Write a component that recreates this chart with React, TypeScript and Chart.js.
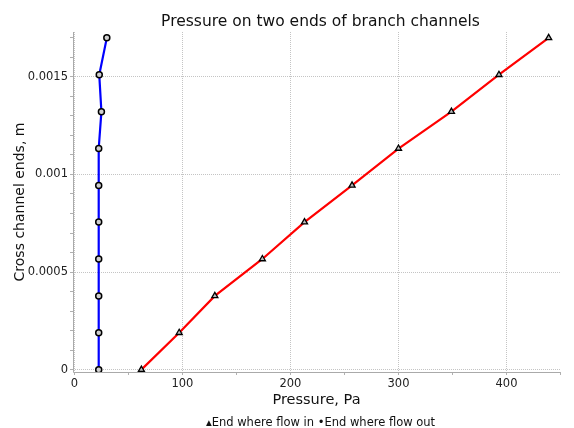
import React, { useEffect, useRef } from "react";
import { Chart, registerables } from "chart.js";

Chart.register(...registerables);

const crossEnds = [0, 0.000189, 0.000378, 0.000567, 0.000756, 0.000944, 0.001133, 0.001322, 0.001511, 0.0017];
const pressureFlowIn = [62, 97, 130, 174, 213, 257, 300, 349, 393, 439];
const pressureFlowOut = [22.5, 22.5, 22.5, 22.5, 22.5, 22.5, 22.5, 25, 23, 30];
const xTickValues = [0, 50, 100, 150, 200, 250, 300, 350, 400, 450];
const xLabelValues = [0, 100, 200, 300, 400];
const yTickValues = [0, 0.0001, 0.0002, 0.0003, 0.0004, 0.0005, 0.0006, 0.0007, 0.0008, 0.0009, 0.001, 0.0011, 0.0012, 0.0013, 0.0014, 0.0015, 0.0016, 0.0017];
const yLabelValues = [0, 0.0005, 0.001, 0.0015];
const titleText = "Pressure on two ends of branch channels";
const xTitle = "Pressure, Pa";
const yTitle = "Cross channel ends, m";
const seriesLabels = ["End where flow in", "End where flow out"];

const FONT = "'DejaVu Sans', Verdana, sans-serif";

const isLabelled = (v: number, list: number[]) => list.some((l) => Math.abs(l - v) < 1e-9);

export default function App() {
  const ref = useRef<HTMLCanvasElement | null>(null);

  useEffect(() => {
    document.body.style.margin = "0";
    const canvas = ref.current;
    if (!canvas) return;

    const overlay = {
      id: "overlayText",
      beforeDatasetsDraw(chart: any) {
        const { ctx, chartArea } = chart;
        ctx.save();
        ctx.strokeStyle = "#aaaaaa";
        ctx.lineWidth = 1;
        ctx.setLineDash([]);
        ctx.beginPath();
        ctx.moveTo(chartArea.left + 0.5, chartArea.top);
        ctx.lineTo(chartArea.left + 0.5, chartArea.bottom + 0.5);
        ctx.lineTo(chartArea.right, chartArea.bottom + 0.5);
        ctx.stroke();
        ctx.restore();
      },
      afterDraw(chart: any) {
        const { ctx, chartArea } = chart;
        const cx = (chartArea.left + chartArea.right) / 2 + 4;
        ctx.save();
        ctx.fillStyle = "#111";
        ctx.textAlign = "center";
        ctx.textBaseline = "alphabetic";
        ctx.font = `15.5px ${FONT}`;
        ctx.fillText(titleText, cx, 26);
        ctx.font = `11.5px ${FONT}`;
        ctx.fillText(`\u25B4${seriesLabels[0]} \u2022${seriesLabels[1]}`, cx, 426);
        ctx.restore();
      },
    };

    const chart = new Chart(canvas, {
      type: "line",
      data: {
        datasets: [
          {
            label: seriesLabels[0],
            data: crossEnds.map((y, i) => ({ x: pressureFlowIn[i], y })),
            borderColor: "#ff0000",
            borderWidth: 2.2,
            pointStyle: "triangle",
            pointRadius: 3.5,
            pointBackgroundColor: "#bcbcbc",
            pointBorderColor: "#000",
            pointBorderWidth: 1.3,
            tension: 0,
          },
          {
            label: seriesLabels[1],
            data: crossEnds.map((y, i) => ({ x: pressureFlowOut[i], y })),
            borderColor: "#0000ff",
            borderWidth: 2.2,
            pointStyle: "circle",
            pointRadius: 3,
            pointBackgroundColor: "#d0d0d0",
            pointBorderColor: "#000",
            pointBorderWidth: 1.5,
            tension: 0,
          },
        ],
      },
      options: {
        animation: false,
        responsive: false,
        layout: { padding: { top: 32, right: 14, bottom: 18, left: 0 } },
        plugins: {
          legend: { display: false },
          title: { display: false },
          tooltip: { enabled: false },
        },
        scales: {
          x: {
            type: "linear",
            min: -1.3,
            max: 449.5,
            afterBuildTicks: (scale: any) => {
              scale.ticks = xTickValues.map((v) => ({ value: v }));
            },
            afterFit: (scale: any) => {
              scale.height = 38;
            },
            ticks: {
              autoSkip: false,
              maxRotation: 0,
              padding: 2,
              color: "#222",
              font: { family: FONT, size: 11.5 },
              callback: (v: any) => (isLabelled(Number(v), xLabelValues) ? String(v) : ""),
            },
            grid: {
              color: (c: any) => (c.tick && isLabelled(c.tick.value, xLabelValues) ? "#c4c4c4" : "rgba(0,0,0,0)"),
              tickColor: "#b0b0b0",
              tickLength: 3,
              lineWidth: 1,
            },
            border: { display: false, dash: [1, 1] },
            title: {
              display: true,
              text: xTitle,
              color: "#111",
              font: { family: FONT, size: 14.5 },
              padding: { top: 0, bottom: 1 },
            },
          },
          y: {
            type: "linear",
            min: -0.000012,
            max: 0.00173,
            afterBuildTicks: (scale: any) => {
              scale.ticks = yTickValues.map((v) => ({ value: v }));
            },
            afterFit: (scale: any) => {
              scale.width = 73;
            },
            ticks: {
              autoSkip: false,
              padding: 2,
              color: "#222",
              font: { family: FONT, size: 11.5 },
              callback: (v: any) =>
                isLabelled(Number(v), yLabelValues) ? String(Number(Number(v).toFixed(6))) : "",
            },
            grid: {
              color: (c: any) => (c.tick && isLabelled(c.tick.value, yLabelValues) ? "#c4c4c4" : "rgba(0,0,0,0)"),
              tickColor: "#b0b0b0",
              tickLength: 3,
              lineWidth: 1,
            },
            border: { display: false, dash: [1, 1] },
            title: {
              display: true,
              text: yTitle,
              color: "#111",
              font: { family: FONT, size: 14 },
              padding: { top: 12, bottom: 0 },
            },
          },
        },
      },
      plugins: [overlay],
    });

    return () => chart.destroy();
  }, []);

  return (
    <div style={{ width: 574, height: 428 }}>
      <canvas ref={ref} width={574} height={428} style={{ display: "block" }} />
    </div>
  );
}
